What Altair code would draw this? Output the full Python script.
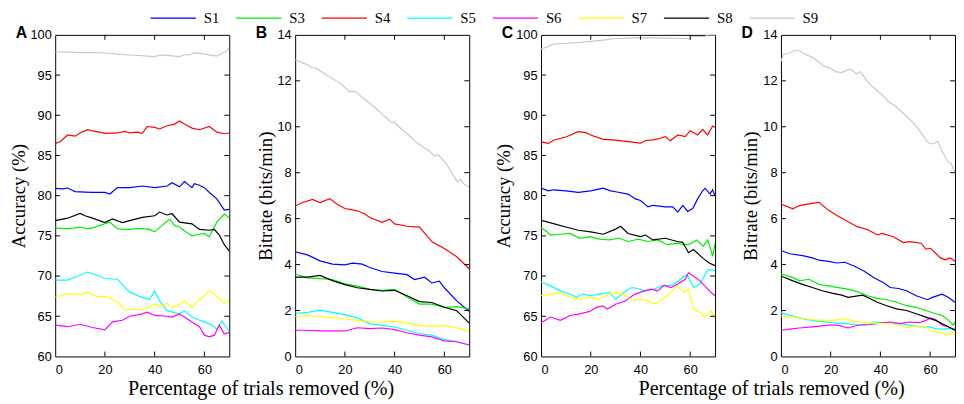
import altair as alt
import pandas as pd

SERIES = ["S1", "S3", "S4", "S5", "S6", "S7", "S8", "S9"]
COLORS = ["#0000ff", "#00ee00", "#ff0000", "#00ffff", "#ff00ff", "#ffff00", "#000000", "#c8c8c8"]

X_TICKS = [0, 20, 40, 60]
ACC_TICKS = [60, 65, 70, 75, 80, 85, 90, 95, 100]
BIT_TICKS = [0, 2, 4, 6, 8, 10, 12, 14]

# ---------------- Panel A: accuracy ----------------
A_S1 = [(0,80.9),(3,80.85),(5,80.95),(8,80.5),(12,80.45),(15,80.4),(20,80.4),(22,80.2),(25,81.0),(30,81.0),(35,81.2),(40,81.0),(45,81.2),(47,81.6),(50,81.1),(52,81.75),(55,81.0),(56,81.5),(58,81.3),(60,81.0),(62,80.4),(65,79.6),(68,78.2),(70,78.3)]
A_S3 = [(0,76.0),(3,75.9),(5,75.9),(8,76.0),(10,76.1),(13,75.9),(15,76.0),(18,76.3),(20,76.5),(22,76.7),(25,75.9),(28,75.8),(30,75.8),(33,75.9),(35,75.9),(38,75.8),(40,75.5),(43,76.3),(46,77.1),(48,76.3),(50,76.1),(53,75.4),(55,75.0),(58,75.2),(60,75.3),(62,74.9),(65,76.7),(68,77.75),(70,77.2)]
A_S4 = [(0,86.5),(2,86.7),(5,87.55),(8,87.4),(10,87.8),(13,88.2),(15,88.05),(18,87.9),(20,87.75),(25,87.8),(28,88.0),(30,87.8),(33,87.9),(35,87.75),(37,88.6),(40,88.5),(42,88.3),(45,88.7),(48,88.9),(50,89.3),(52,88.9),(55,88.4),(58,88.2),(62,88.6),(65,87.9),(68,87.7),(70,87.8)]
A_S5 = [(0,69.5),(5,69.5),(10,70.1),(13,70.5),(17,70.1),(20,69.7),(25,69.6),(28,68.6),(30,68.0),(33,67.6),(35,67.35),(38,67.1),(40,68.15),(42,66.9),(45,65.7),(50,65.3),(52,65.7),(55,64.9),(58,64.5),(60,64.3),(63,63.9),(65,63.4),(67,64.4),(70,63.1)]
A_S6 = [(0,63.9),(5,63.7),(10,64.0),(15,63.6),(20,63.3),(23,64.3),(27,64.5),(30,65.0),(35,65.3),(37,65.5),(40,65.1),(45,65.0),(47,64.9),(50,65.3),(52,64.9),(55,64.3),(58,63.7),(60,62.65),(62,62.45),(64,62.65),(66,63.9),(68,62.8),(70,63.0)]
A_S7 = [(0,67.4),(5,67.8),(10,67.7),(13,68.0),(17,67.4),(20,67.5),(25,66.8),(28,65.8),(30,65.9),(35,65.8),(40,66.5),(42,66.2),(45,66.6),(47,66.1),(50,66.5),(52,66.9),(55,66.1),(57,66.8),(60,67.6),(62,68.2),(65,67.5),(68,66.6),(70,67.0)]
A_S8 = [(0,76.9),(5,77.2),(10,77.8),(12,77.5),(15,77.2),(20,76.65),(23,77.1),(27,76.65),(30,76.9),(35,77.3),(40,77.5),(42,77.96),(45,77.6),(47,77.75),(50,76.7),(55,76.5),(58,75.8),(62,75.7),(64,75.8),(66,75.1),(68,73.9),(70,73.1)]
A_S9 = [(0,97.9),(5,97.85),(10,97.8),(15,97.8),(20,97.75),(25,97.6),(30,97.5),(35,97.4),(40,97.3),(42,97.5),(45,97.45),(48,97.35),(50,97.3),(52,97.55),(54,97.5),(56,97.75),(58,97.7),(60,97.6),(63,97.45),(65,97.35),(67,97.7),(69,98.0),(70,98.5)]

# ---------------- Panel B: bitrate ----------------
B_S1 = [(0,4.56),(5,4.42),(10,4.16),(15,4.02),(20,3.99),(23,4.06),(27,4.02),(30,3.87),(35,3.7),(40,3.63),(45,3.56),(48,3.35),(52,3.45),(55,3.2),(58,3.28),(60,2.99),(65,2.42),(70,1.97)]
B_S3 = [(0,3.59),(5,3.42),(10,3.39),(15,3.35),(20,3.16),(25,3.06),(30,2.92),(35,2.88),(40,2.92),(45,2.59),(50,2.28),(55,2.28),(60,2.14),(65,2.17),(70,2.07)]
B_S4 = [(0,6.55),(3,6.7),(7,6.84),(10,6.7),(14,6.87),(17,6.62),(20,6.44),(25,6.34),(28,6.2),(30,6.05),(35,5.84),(38,5.98),(40,5.77),(45,5.67),(50,5.63),(55,4.99),(60,4.7),(65,4.34),(70,3.82)]
B_S5 = [(0,1.88),(5,1.92),(10,2.02),(15,1.92),(20,1.82),(25,1.68),(30,1.42),(35,1.35),(40,1.28),(45,1.14),(50,1.0),(55,0.93),(60,0.74),(65,0.64),(70,0.5)]
B_S6 = [(0,1.14),(5,1.14),(10,1.11),(15,1.11),(20,1.11),(25,1.25),(30,1.21),(35,1.24),(40,1.17),(45,1.03),(50,0.93),(55,0.85),(60,0.68),(65,0.64),(70,0.5)]
B_S7 = [(0,1.74),(5,1.78),(10,1.74),(15,1.68),(20,1.64),(25,1.57),(30,1.5),(35,1.5),(40,1.54),(45,1.45),(50,1.35),(55,1.31),(60,1.35),(65,1.25),(70,1.07)]
B_S8 = [(0,3.45),(5,3.45),(10,3.53),(15,3.3),(20,3.13),(25,2.99),(30,2.92),(35,2.85),(40,2.88),(45,2.64),(50,2.39),(55,2.35),(60,2.14),(65,1.99),(70,1.45)]
B_S9 = [(0,12.92),(3,12.78),(5,12.7),(7,12.57),(8.3,12.55),(12,12.3),(18,11.9),(22,11.52),(24,11.55),(28,11.2),(32,10.85),(36,10.45),(38.4,10.22),(40,10.18),(42,9.98),(46,9.6),(49,9.3),(51,9.15),(54,8.95),(56,8.72),(57.5,8.78),(61,8.35),(63,8.0),(65.3,7.6),(66.6,7.7),(68,7.5),(70,7.38)]

# ---------------- Panel C: accuracy ----------------
C_S1 = [(0,80.94),(3,80.6),(5,80.73),(10,80.6),(15,80.4),(20,80.6),(25,80.94),(28,80.6),(30,80.49),(35,80.2),(38,79.6),(40,79.4),(43,78.6),(45,78.8),(50,78.6),(53,78.6),(55,77.96),(57,78.78),(59,78.04),(61,78.4),(63,79.6),(65,80.61),(66,80.9),(68,80.2),(69,80.73),(70,80.0)]
C_S3 = [(0,76.0),(2,75.6),(3.9,75.1),(7.8,75.2),(11.7,75.3),(15.6,74.7),(19.6,74.9),(23.5,74.6),(27.4,74.5),(31.3,74.7),(35.2,74.3),(39.1,74.6),(43,74.3),(46.9,74.5),(50.8,73.9),(54.8,74.1),(57.4,73.9),(60,74.0),(62.6,74.5),(65.2,73.7),(67.1,74.5),(69.1,72.45),(70,74.1)]
C_S4 = [(0,86.7),(3,86.5),(5,86.9),(10,87.3),(15,87.96),(18,87.84),(20,87.55),(25,87.0),(30,86.9),(35,86.73),(40,86.53),(42,86.86),(45,86.94),(48,87.14),(50,87.35),(52,86.82),(55,87.55),(58,87.35),(60,88.08),(63,87.55),(65,88.24),(67,87.55),(69,88.65),(70,88.5)]
C_S5 = [(0,69.27),(3.9,68.78),(7.8,68.16),(11.7,67.76),(14.3,67.35),(16.9,67.76),(19.6,67.55),(23.5,67.76),(27.4,67.96),(30,67.14),(32.6,67.76),(35.2,68.37),(36.5,68.57),(39.1,68.45),(41.7,68.16),(45.6,68.37),(48.2,68.78),(50.8,68.78),(53.5,68.98),(56.1,69.6),(58.7,70.2),(61.3,68.57),(63.9,68.98),(67.1,70.8),(70,70.7)]
C_S6 = [(0,64.2),(3.9,64.9),(7.8,64.5),(11.7,65.1),(15.6,65.3),(19.6,65.6),(22.2,66.1),(24.8,66.3),(26.7,65.9),(30,66.5),(33.9,66.9),(37.8,67.76),(41.7,68.16),(44.3,68.37),(46.9,68.16),(49.5,68.86),(52.2,68.57),(54.8,68.98),(58,69.6),(59.3,70.4),(61.3,70.0),(63.9,69.4),(66.5,68.57),(68.4,67.96),(70,67.55)]
C_S7 = [(0,67.55),(3.9,67.76),(7.8,67.88),(11.7,67.35),(15.6,67.14),(19.6,67.35),(23.5,67.14),(27.4,67.76),(31.3,67.96),(33.9,67.6),(36.5,66.94),(39.1,67.14),(43,66.94),(45.6,66.53),(48.2,66.94),(50.8,67.55),(53.5,68.37),(54.8,68.78),(57.4,67.96),(59.3,68.37),(61.3,65.92),(63.9,65.5),(65.8,64.9),(68.4,65.7),(70,64.7)]
C_S8 = [(0,76.94),(5,76.53),(10,76.1),(15,75.7),(20,75.5),(25,75.2),(30,75.84),(32,76.2),(35,75.3),(40,74.9),(42,75.1),(45,74.5),(50,74.7),(54.8,74.3),(57,74.2),(59.3,72.9),(61.3,73.3),(65.2,72.2),(67.8,71.6),(70,71.3)]
C_S9 = [(0,98.25),(2,98.45),(4,98.75),(6,98.9),(10,98.95),(15,99.05),(20,99.2),(25,99.35),(30,99.55),(35,99.6),(40,99.65),(50,99.6),(58,99.55),(60,99.5),(60.5,99.8),(66,99.8),(67,100),(70,100)]

# ---------------- Panel D: bitrate ----------------
D_S1 = [(0,4.61),(3.5,4.47),(8.7,4.39),(12.6,4.29),(15.3,4.19),(19.2,4.14),(22.4,4.07),(25.7,4.1),(29.6,3.93),(33.5,3.71),(37.4,3.43),(41.3,3.21),(43.9,3.0),(47.2,2.96),(50.5,2.86),(54.4,2.64),(58.9,2.47),(60.9,2.57),(64.8,2.71),(67.4,2.57),(70,2.36)]
D_S3 = [(0,3.6),(4.8,3.43),(7.4,3.29),(11.3,3.36),(15.3,3.14),(19.2,3.07),(23,3.0),(27,2.93),(30.9,2.81),(34.8,2.64),(38.7,2.53),(42.6,2.47),(46.5,2.36),(50.5,2.21),(54.4,2.14),(58.3,2.0),(62.2,1.86),(64.8,1.79),(67.4,1.57),(69.3,1.36),(70,1.5)]
D_S4 = [(0,6.64),(4.8,6.43),(7.4,6.57),(11.3,6.64),(15.3,6.71),(19.2,6.36),(23,6.1),(27,5.86),(30.9,5.64),(34.8,5.53),(38.7,5.29),(40.7,5.36),(45.2,5.21),(49.2,4.96),(51.8,5.0),(56.3,4.93),(58.3,4.67),(60.2,4.71),(64.1,4.29),(66.1,4.21),(68,4.29),(70,4.14)]
D_S5 = [(0,1.9),(4.8,1.76),(10,1.61),(15.3,1.53),(20.5,1.47),(25.7,1.43),(29.6,1.39),(33.5,1.36),(37.4,1.5),(42.6,1.46),(47.8,1.43),(51.8,1.36),(55.7,1.29),(59.6,1.29),(62.2,1.21),(64.8,1.19),(67.4,1.21),(70,1.21)]
D_S6 = [(0,1.14),(3.5,1.19),(7.4,1.24),(12.6,1.29),(19.2,1.36),(23,1.36),(27,1.24),(30.9,1.36),(36.1,1.39),(38.7,1.43),(43.9,1.5),(47.8,1.43),(51.8,1.5),(55.7,1.47),(58.3,1.57),(60.2,1.67),(62.2,1.61),(64.8,1.36),(67.4,1.29),(70,1.14)]
D_S7 = [(0,1.76),(4.8,1.71),(10,1.64),(15.3,1.57),(20.5,1.57),(25.7,1.64),(29.6,1.53),(33.5,1.47),(38.7,1.43),(43.9,1.43),(47.8,1.36),(50.5,1.24),(54.4,1.33),(58.3,1.29),(60.9,1.1),(64.8,1.04),(66.8,0.93),(68.7,1.07),(70,0.93)]
D_S8 = [(0,3.5),(4.8,3.29),(8.7,3.14),(12.6,3.0),(16.6,2.86),(20.5,2.76),(24.4,2.67),(27,2.57),(30.9,2.64),(32.9,2.67),(36.1,2.5),(38.7,2.36),(42.6,2.21),(46.5,2.07),(50.5,2.0),(54.4,1.86),(58.3,1.71),(62.2,1.57),(66.1,1.36),(70,1.14)]
D_S9 = [(0,12.85),(1,13.15),(3,13.2),(5,13.3),(7,13.33),(10,13.15),(13.5,12.97),(17,12.65),(20,12.55),(22,12.4),(24.5,12.36),(27.8,12.53),(30.5,12.3),(31.8,12.4),(35.5,11.88),(40,11.45),(43,11.12),(46,10.9),(50,10.5),(53,10.2),(56,9.8),(59.2,9.3),(61,9.25),(63,9.36),(65,8.9),(67,8.5),(68.4,8.4),(70,8.0)]

PANELS = {
    "A": [A_S1, A_S3, A_S4, A_S5, A_S6, A_S7, A_S8, A_S9],
    "B": [B_S1, B_S3, B_S4, B_S5, B_S6, B_S7, B_S8, B_S9],
    "C": [C_S1, C_S3, C_S4, C_S5, C_S6, C_S7, C_S8, C_S9],
    "D": [D_S1, D_S3, D_S4, D_S5, D_S6, D_S7, D_S8, D_S9],
}

rows = []
for pname, lists in PANELS.items():
    for s, pts in zip(SERIES, lists):
        for i, (xv, yv) in enumerate(pts):
            rows.append({"panel": pname, "series": s, "x": xv, "y": yv, "i": i})
df = pd.DataFrame(rows)

W = 177
H = 327
SERIF = "Liberation Serif"
SANS = "Liberation Sans"

color_enc = alt.Color(
    "series:N",
    scale=alt.Scale(domain=SERIES, range=COLORS),
    legend=alt.Legend(
        orient="none", legendX=96, legendY=-41, direction="horizontal",
        columns=8, title=None, symbolType="stroke", symbolSize=2116,
        symbolStrokeWidth=1.3, labelFont=SERIF, labelFontSize=15,
        labelColor="black", labelOffset=7, columnPadding=14,
    ),
)


def panel(pname, ytitle, ydomain, yticks):
    sub = df[df.panel == pname]
    X = alt.X("x:Q", scale=alt.Scale(domain=[0, 70], nice=False, zero=False),
              axis=alt.Axis(values=X_TICKS, title=None, labelPadding=7))
    Y = alt.Y("y:Q", scale=alt.Scale(domain=ydomain, nice=False, zero=False),
              axis=alt.Axis(values=yticks, title=ytitle))
    lines = alt.Chart(sub).mark_line(strokeWidth=1.2, clip=True).encode(
        x=X, y=Y, color=color_enc, order="i:Q")
    xt = pd.DataFrame({"x": X_TICKS[1:]})
    yt = pd.DataFrame({"y": yticks[1:-1]})
    tick = dict(color="black", strokeWidth=1)
    t_bottom = alt.Chart(xt).mark_rule(**tick).encode(x=X, y=alt.value(H), y2=alt.value(H - 5))
    t_top = alt.Chart(xt).mark_rule(**tick).encode(x=X, y=alt.value(0), y2=alt.value(5))
    t_left = alt.Chart(yt).mark_rule(**tick).encode(y=Y, x=alt.value(0), x2=alt.value(5))
    t_right = alt.Chart(yt).mark_rule(**tick).encode(y=Y, x=alt.value(W), x2=alt.value(W - 5))
    letter = alt.Chart(pd.DataFrame({"t": [pname]})).mark_text(
        font=SANS, fontWeight="bold", fontSize=16, align="left", baseline="middle",
        color="black").encode(text="t:N", x=alt.value(-40), y=alt.value(-2))
    return alt.layer(lines, t_bottom, t_top, t_left, t_right, letter).properties(width=W, height=H)


pA = panel("A", "Accuracy (%)", [60, 100], ACC_TICKS)
pB = panel("B", "Bitrate (bits/min)", [0, 14], BIT_TICKS)
pC = panel("C", "Accuracy (%)", [60, 100], ACC_TICKS)
pD = panel("D", "Bitrate (bits/min)", [0, 14], BIT_TICKS)

xtitle = dict(text="Percentage of trials removed (%)", orient="bottom", anchor="middle",
              font=SERIF, fontSize=20.5, fontWeight="normal", color="black", offset=3)

ab = alt.hconcat(pA, pB, spacing=25).properties(title=alt.TitleParams(dx=22, **xtitle))
cd = alt.hconcat(pC, pD, spacing=25).properties(title=alt.TitleParams(dx=47, **xtitle))

chart = alt.hconcat(ab, cd, spacing=24).properties(
    padding={"left": 0, "top": -17, "right": 0, "bottom": 0}
).configure_view(
    stroke="black", strokeWidth=1
).configure_axis(
    grid=False, ticks=False, domain=False,
    labelFont=SANS, labelFontSize=13, labelColor="black", labelPadding=4,
    titleFont=SERIF, titleFontSize=19, titleFontWeight="normal", titleColor="black",
    titlePadding=2,
)

chart.save("out.html", embed_options={"renderer": "svg", "actions": False})
